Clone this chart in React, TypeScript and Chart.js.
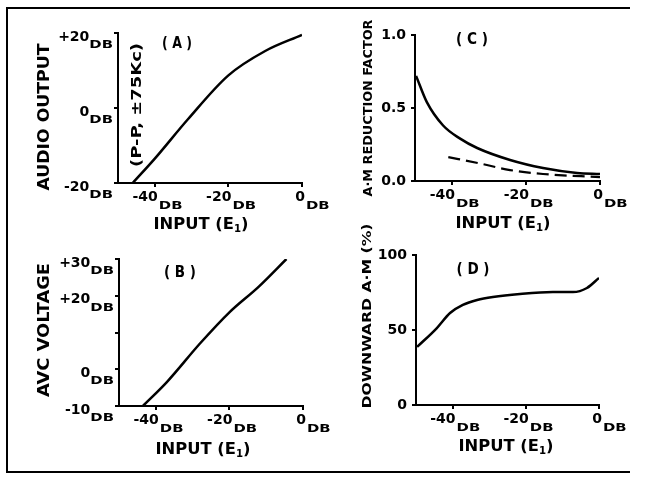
import React, { useEffect, useRef } from 'react';
import { Chart, registerables } from 'chart.js';
Chart.register(...registerables);

const FONT = '"DejaVu Sans", sans-serif';
const WEIGHT = 'bold';

// ---- Data ----
// Panel A: audio output vs input
const aInput = [-46, -40, -31, -20, -10, 0];
const aOutput = [-20, -13.5, -3, 8.7, 15.2, 19.5];
// Panel B: AVC voltage vs input
const bInput = [-43.5, -37, -28, -20, -12, -4.5];
const bAvc = [-10, -3.5, 7, 15.5, 22.5, 30];
// Panel C: A-M reduction factor vs input
const cInputSolid = [-49.7, -46.8, -42.4, -37.8, -33.2, -24.3, -15.4, -6.2, 0];
const cSolid = [0.72, 0.54, 0.38, 0.29, 0.226, 0.144, 0.089, 0.055, 0.048];
const cInputDashed = [-41, -33, -24.3, -15.4, 0];
const cDashed = [0.164, 0.123, 0.075, 0.048, 0.027];
// Panel D: downward A-M (%) vs input
const dInput = [-49.7, -44.3, -40.7, -37.2, -33.3, -29, -21.6, -12.6, -7.1, -3.3, 0];
const dDownward = [38.7, 51.3, 61.3, 66.7, 70, 72, 74, 75.3, 75.3, 78, 84.7];

// Ticks
const xTicks = [-40, -20, 0];
const xTickLabels = ['-40', '-20', '0'];
const aYTicks = [-20, 0, 20];
const aYLabels = ['-20', '0', '+20'];
const bYTicks = [-10, 0, 10, 20, 30];
const bYLabels = ['-10', '0', '', '+20', '+30'];
const cYTicks = [0, 0.5, 1];
const cYLabels = ['0.0', '0.5', '1.0'];
const dYTicks = [0, 50, 100];
const dYLabels = ['0', '50', '100'];

type Part = { t: string; size: number; dy?: number; sx?: number };

function drawRich(ctx: CanvasRenderingContext2D, parts: Part[], x: number, y: number, align: 'left' | 'center' | 'right', rot = 0, fitW?: number) {
  const widths = parts.map(p => {
    ctx.font = `${WEIGHT} ${p.size}px ${FONT}`;
    return ctx.measureText(p.t).width * (p.sx ?? 1);
  });
  const total = widths.reduce((a, b) => a + b, 0);
  const k = fitW ? fitW / total : 1;
  ctx.save();
  ctx.translate(x, y);
  ctx.rotate(rot);
  ctx.scale(k, 1);
  let start = align === 'left' ? 0 : align === 'right' ? -total : -total / 2;
  ctx.textBaseline = 'middle';
  ctx.textAlign = 'left';
  parts.forEach((p, i) => {
    ctx.save();
    ctx.font = `${WEIGHT} ${p.size}px ${FONT}`;
    ctx.translate(start, p.dy ?? 0);
    ctx.scale(p.sx ?? 1, 1);
    ctx.fillText(p.t, 0, 0);
    ctx.restore();
    start += widths[i];
  });
  ctx.restore();
}

type TextItem = { parts: Part[]; x: number; y: number; rot?: number; w?: number };

type PanelSpec = {
  canvas: { x: number; y: number; w: number; h: number };
  area: { l: number; t: number; r: number; b: number };
  yMin: number; yMax: number;
  yTicks: number[]; yLabels: string[];
  db: boolean;
  datasets: any[];
  texts: TextItem[];
};

const inputTitle = (x: number, y: number): TextItem => ({
  parts: [{ t: 'INPUT (E', size: 16 }, { t: '1', size: 10, dy: 4 }, { t: ')', size: 16 }],
  x, y, w: 95,
});

const zip = (xs: number[], ys: number[]) => xs.map((x, i) => ({ x, y: ys[i] }));

const solid = (xs: number[], ys: number[]) => ({
  data: zip(xs, ys), borderColor: '#000', borderWidth: 2.5, pointRadius: 0,
  cubicInterpolationMode: 'monotone', fill: false,
});

const panels: PanelSpec[] = [
  {
    canvas: { x: 10, y: 10, w: 320, h: 230 },
    area: { l: 118, t: 33, r: 302, b: 183 },
    yMin: -20, yMax: 20, yTicks: aYTicks, yLabels: aYLabels, db: true,
    datasets: [solid(aInput, aOutput)],
    texts: [
      { parts: [{ t: 'AUDIO OUTPUT', size: 16 }], x: 45, y: 117, rot: -Math.PI / 2, w: 147 },
      { parts: [{ t: '(P-P, ±75Kc)', size: 14 }], x: 137, y: 105, rot: -Math.PI / 2, w: 124 },
      { parts: [{ t: '( A )', size: 15 }], x: 177, y: 44, w: 30 },
      inputTitle(201, 225),
    ],
  },
  {
    canvas: { x: 10, y: 240, w: 320, h: 230 },
    area: { l: 119, t: 259, r: 303, b: 406 },
    yMin: -10, yMax: 30, yTicks: bYTicks, yLabels: bYLabels, db: true,
    datasets: [solid(bInput, bAvc)],
    texts: [
      { parts: [{ t: 'AVC VOLTAGE', size: 16 }], x: 45, y: 330, rot: -Math.PI / 2, w: 134 },
      { parts: [{ t: '( B )', size: 15 }], x: 180, y: 273, w: 32 },
      inputTitle(203, 450),
    ],
  },
  {
    canvas: { x: 330, y: 10, w: 315, h: 230 },
    area: { l: 415, t: 35, r: 600, b: 181 },
    yMin: 0, yMax: 1, yTicks: cYTicks, yLabels: cYLabels, db: false,
    datasets: [
      solid(cInputSolid, cSolid),
      { ...solid(cInputDashed, cDashed), borderDash: [12, 6], borderWidth: 2.2 },
    ],
    texts: [
      { parts: [{ t: 'A·M REDUCTION FACTOR', size: 12 }], x: 369, y: 108, rot: -Math.PI / 2, w: 177 },
      { parts: [{ t: '( C )', size: 15 }], x: 472, y: 40, w: 32 },
      inputTitle(503, 224),
    ],
  },
  {
    canvas: { x: 330, y: 210, w: 315, h: 260 },
    area: { l: 416, t: 255, r: 599, b: 405 },
    yMin: 0, yMax: 100, yTicks: dYTicks, yLabels: dYLabels, db: false,
    datasets: [solid(dInput, dDownward)],
    texts: [
      { parts: [{ t: 'DOWNWARD A·M (%)', size: 13 }], x: 368, y: 316, rot: -Math.PI / 2, w: 185 },
      { parts: [{ t: '( D )', size: 15 }], x: 473, y: 270, w: 33 },
      inputTitle(506, 447),
    ],
  },
];

function textPlugin(spec: PanelSpec) {
  return {
    id: 'panelText',
    afterDraw(chart: any) {
      const ctx: CanvasRenderingContext2D = chart.ctx;
      const xs = chart.scales.x;
      const ys = chart.scales.y;
      const ox = spec.canvas.x;
      const oy = spec.canvas.y;
      ctx.save();
      ctx.fillStyle = '#000';
      const axisX = chart.chartArea.left;
      const axisY = chart.chartArea.bottom;
      spec.yTicks.forEach((v, i) => {
        const lab = spec.yLabels[i];
        if (!lab) return;
        const py = ys.getPixelForValue(v);
        if (spec.db) {
          drawRich(ctx, [{ t: lab, size: 14 }, { t: 'DB', size: 11, dy: 8, sx: 1.35 }], axisX - 5, py + 4, 'right');
        } else {
          drawRich(ctx, [{ t: lab, size: 14 }], axisX - 9, py, 'right');
        }
      });
      xTicks.forEach((v, i) => {
        const px = xs.getPixelForValue(v);
        drawRich(ctx, [{ t: xTickLabels[i], size: 14 }], px + 3, axisY + 14, 'right');
        drawRich(ctx, [{ t: 'DB', size: 11, sx: 1.35 }], px + 4, axisY + 23, 'left');
      });
      spec.texts.forEach(tx => {
        drawRich(ctx, tx.parts, tx.x - ox, tx.y - oy, 'center', tx.rot ?? 0, tx.w);
      });
      ctx.restore();
    },
  };
}

function Panel({ spec }: { spec: PanelSpec }) {
  const ref = useRef<HTMLCanvasElement>(null);
  useEffect(() => {
    const c = spec.canvas;
    const a = spec.area;
    const chart = new Chart(ref.current!, {
      type: 'line',
      data: { datasets: spec.datasets },
      options: {
        animation: false,
        responsive: false,
        maintainAspectRatio: false,
        layout: {
          padding: { left: a.l - c.x, top: a.t - c.y, right: c.x + c.w - a.r, bottom: c.y + c.h - a.b },
        },
        plugins: { legend: { display: false }, tooltip: { enabled: false } },
        scales: {
          x: {
            type: 'linear', min: -50, max: 0,
            afterFit: (s: any) => { s.height = 0; },
            afterBuildTicks: (s: any) => { s.ticks = xTicks.map(v => ({ value: v })); },
            ticks: { display: false },
            grid: { drawOnChartArea: false, drawTicks: true, tickLength: 4, color: '#000', lineWidth: 2 },
            border: { color: '#000', width: 2 },
          },
          y: {
            type: 'linear', min: spec.yMin, max: spec.yMax,
            afterFit: (s: any) => { s.width = 0; },
            afterBuildTicks: (s: any) => { s.ticks = spec.yTicks.map(v => ({ value: v })); },
            ticks: { display: false },
            grid: { drawOnChartArea: false, drawTicks: true, tickLength: 4, color: '#000', lineWidth: 2 },
            border: { color: '#000', width: 2 },
          },
        },
      } as any,
      plugins: [textPlugin(spec)],
    });
    return () => chart.destroy();
  }, [spec]);
  const c = spec.canvas;
  return (
    <canvas
      ref={ref}
      width={c.w}
      height={c.h}
      style={{ position: 'absolute', left: c.x, top: c.y, width: c.w, height: c.h }}
    />
  );
}

export default function App() {
  const line = (l: number, t: number, w: number, h: number) => (
    <div style={{ position: 'absolute', left: l, top: t, width: w, height: h, background: '#000' }} />
  );
  return (
    <div style={{ position: 'fixed', left: 0, top: 0, width: 649, height: 478, overflow: 'hidden', background: '#fff' }}>
      {line(6, 7, 624, 2)}
      {line(6, 7, 2, 466)}
      {line(6, 471, 624, 2)}
      {panels.map((p, i) => <Panel key={i} spec={p} />)}
    </div>
  );
}
